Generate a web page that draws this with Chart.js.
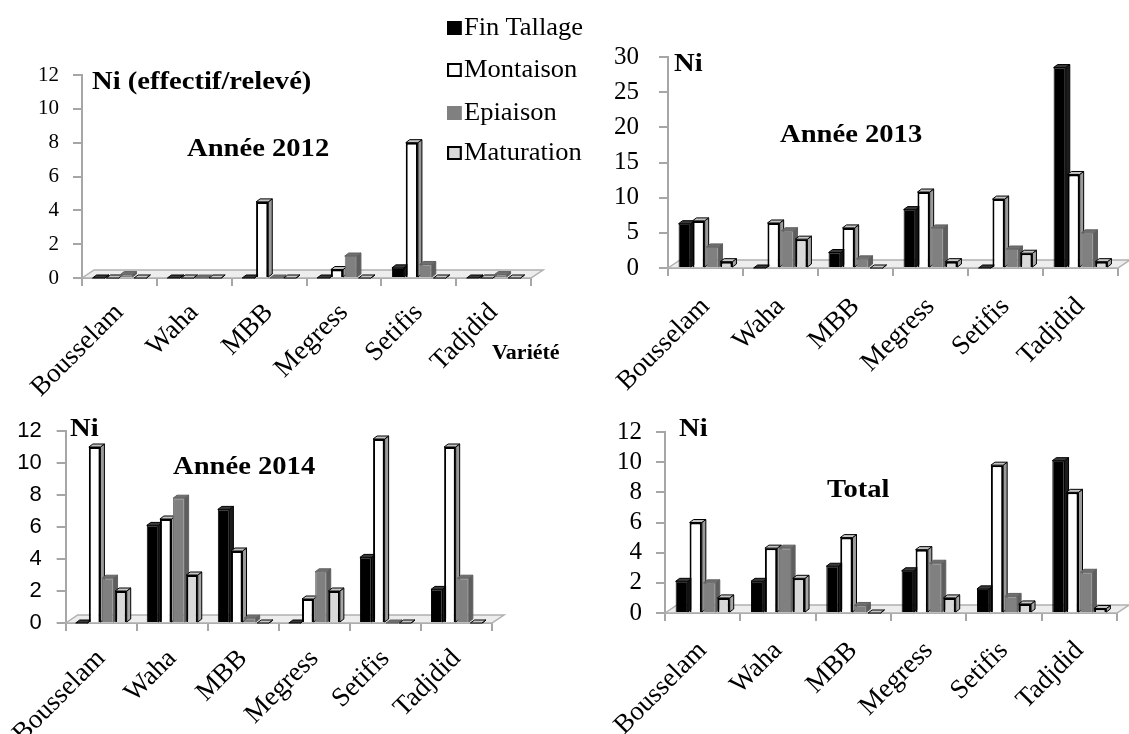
<!DOCTYPE html>
<html>
<head>
<meta charset="utf-8">
<script src="https://cdn.jsdelivr.net/npm/chart.js@4.4.1/dist/chart.umd.min.js"></script>
<style>
  body { margin: 0; background: #fff; width: 1129px; height: 734px; position: relative; overflow: hidden;
         font-family: 'Liberation Serif', 'Times New Roman', serif; }
  canvas { position: absolute; }
  .txt { position: absolute; font-family: 'Liberation Serif', 'Times New Roman', serif; font-weight: bold;
         font-size: 26px; line-height: 1; white-space: nowrap; color: #000;
         transform: scaleX(1.1); transform-origin: left top; }
  .leg { position: absolute; left: 447px; font-family: 'Liberation Serif', 'Times New Roman', serif;
         font-size: 25px; line-height: 1; white-space: nowrap; transform: scaleX(1.06); transform-origin: left top; }
  .leg i { display: inline-block; width: 14px; height: 14px; margin-right: 2px; vertical-align: 0; box-sizing: border-box; }
</style>
</head>
<body>
<canvas id="c2012" width="565" height="400" style="left:0;top:0"></canvas>
<canvas id="c2013" width="564" height="400" style="left:565px;top:0"></canvas>
<canvas id="c2014" width="565" height="334" style="left:0;top:400px"></canvas>
<canvas id="cTotal" width="564" height="334" style="left:565px;top:400px"></canvas>

<div class="leg" style="top:14px"><i style="background:#000"></i>Fin Tallage</div>
<div class="leg" style="top:56px"><i style="background:#fff;border:2px solid #000"></i>Montaison</div>
<div class="leg" style="top:99px"><i style="background:#808080"></i>Epiaison</div>
<div class="leg" style="top:139px"><i style="background:#d9d9d9;border:2px solid #000"></i>Maturation</div>

<div class="txt" style="left:92px;top:68px">Ni (effectif/relevé)</div>
<div class="txt" style="left:187px;top:135px">Année 2012</div>
<div class="txt" style="left:492px;top:342px;font-size:20px">Variété</div>
<div class="txt" style="left:674px;top:50px">Ni</div>
<div class="txt" style="left:780px;top:121px">Année 2013</div>
<div class="txt" style="left:70px;top:415px">Ni</div>
<div class="txt" style="left:173px;top:453px">Année 2014</div>
<div class="txt" style="left:679px;top:415px">Ni</div>
<div class="txt" style="left:827px;top:476px">Total</div>

<script>
const varietes = ['Bousselam', 'Waha', 'MBB', 'Megress', 'Setifis', 'Tadjdid'];
const stades = ['Fin Tallage', 'Montaison', 'Epiaison', 'Maturation'];

// Année 2012
const finTallage2012 = [0, 0, 0, 0, 0.6, 0];
const montaison2012 = [0, 0, 4.5, 0.5, 8.0, 0];
const epiaison2012 = [0.2, 0, 0, 1.3, 0.8, 0.2];
const maturation2012 = [0, 0, 0, 0, 0, 0];

// Année 2013
const finTallage2013 = [6.3, 0, 2.2, 8.3, 0, 28.5];
const montaison2013 = [6.7, 6.4, 5.7, 10.8, 9.8, 13.3];
const epiaison2013 = [3.0, 5.3, 1.3, 5.7, 2.7, 5.0];
const maturation2013 = [0.9, 4.1, 0, 0.9, 2.1, 0.9];

// Année 2014
const finTallage2014 = [0, 6.1, 7.1, 0, 4.1, 2.1];
const montaison2014 = [11.0, 6.5, 4.5, 1.5, 11.5, 11.0];
const epiaison2014 = [2.8, 7.8, 0.3, 3.2, 0, 2.8];
const maturation2014 = [2.0, 3.0, 0, 2.0, 0, 0];

// Total
const finTallageTotal = [2.1, 2.1, 3.1, 2.8, 1.6, 10.1];
const montaisonTotal = [6.0, 4.3, 5.0, 4.2, 9.8, 8.0];
const epiaisonTotal = [2.0, 4.3, 0.5, 3.3, 1.1, 2.7];
const maturationTotal = [1.0, 2.3, 0, 1.0, 0.6, 0.3];

const axisGray = '#a6a6a6';
const serif = "'Liberation Serif', 'Times New Roman', serif";
const sans = "'Liberation Sans', Arial, sans-serif";

// front / side / top colours for each stage
const barStyles = [
    { backgroundColor: '#000', borderColor: '#000', borderWidth: 1, sideColor: '#1c1c1c', topColor: '#3a3a3a', edgeColor: '#000' },
    { backgroundColor: '#fff', borderColor: '#000', borderWidth: 2, sideColor: '#9a9a9a', topColor: '#c4c4c4', edgeColor: '#000' },
    { backgroundColor: '#808080', borderColor: '#707070', borderWidth: 1, sideColor: '#5e5e5e', topColor: '#707070', edgeColor: '#606060' },
    { backgroundColor: '#d9d9d9', borderColor: '#000', borderWidth: 2, sideColor: '#a6a6a6', topColor: '#c8c8c8', edgeColor: '#000' }
];

// fake 3D: floor, then side and top faces drawn before the bar fronts
const depth3d = {
    id: 'depth3d',
    beforeDatasetsDraw(chart) {
        const { ctx, chartArea: a } = chart;
        const dx = 4, dy = 3;
        const poly = (pts, fill) => {
            ctx.beginPath();
            pts.forEach((p, k) => k ? ctx.lineTo(p[0], p[1]) : ctx.moveTo(p[0], p[1]));
            ctx.closePath();
            ctx.fillStyle = fill;
            ctx.fill();
            ctx.stroke();
        };
        ctx.save();
        ctx.strokeStyle = '#b0b0b0';
        ctx.lineWidth = 1.5;
        poly([[a.left, a.bottom], [a.left + 12, a.bottom - 8], [a.right + 12, a.bottom - 8], [a.right, a.bottom]], '#ededed');

        ctx.lineWidth = 1;
        chart.data.datasets.forEach((ds, i) => {
            ctx.strokeStyle = ds.edgeColor;
            chart.getDatasetMeta(i).data.forEach(bar => {
                const { x, y, base, width } = bar.getProps(['x', 'y', 'base', 'width'], true);
                const l = x - width / 2, r = x + width / 2;
                poly([[r, y], [r + dx, y - dy], [r + dx, base - dy], [r, base]], ds.sideColor);
                poly([[l, y], [l + dx, y - dy], [r + dx, y - dy], [r, y]], ds.topColor);
            });
        });
        ctx.restore();
    }
};

function makeChart(id, series, cfg) {
    return new Chart(document.getElementById(id), {
        type: 'bar',
        data: {
            labels: varietes,
            datasets: stades.map((s, i) => ({ label: s, data: series[i], ...barStyles[i] }))
        },
        options: {
            responsive: false,
            animation: false,
            layout: { padding: { top: cfg.top, right: cfg.right, left: 0, bottom: 0 } },
            datasets: { bar: { categoryPercentage: 0.74, barPercentage: 0.88 } },
            plugins: { legend: { display: false }, tooltip: { enabled: false } },
            scales: {
                x: {
                    grid: { drawOnChartArea: false, offset: true, tickLength: 8, color: axisGray, lineWidth: 2 },
                    border: { color: axisGray, width: 2 },
                    ticks: { minRotation: 45, maxRotation: 45, autoSkip: false, color: '#000', padding: cfg.xpad,
                             font: { family: serif, size: 27 } },
                    afterFit: s => { s.height = cfg.xh; }
                },
                y: {
                    min: 0, max: cfg.max,
                    grid: { drawOnChartArea: false, tickLength: 9, color: axisGray, lineWidth: 2 },
                    border: { color: axisGray, width: 2 },
                    ticks: { stepSize: cfg.step, autoSkip: false, color: '#000', padding: cfg.pad,
                             font: { family: cfg.sans ? sans : serif, size: cfg.fs } },
                    afterFit: s => { s.width = cfg.yw; }
                }
            }
        },
        plugins: [depth3d]
    });
}

makeChart('c2012', [finTallage2012, montaison2012, epiaison2012, maturation2012],
    { top: 75, right: 34, xh: 122, yw: 82, max: 12, step: 2, pad: 14, fs: 21, xpad: 11 });
makeChart('c2013', [finTallage2013, montaison2013, epiaison2013, maturation2013],
    { top: 57, right: 11, xh: 132, yw: 103, max: 30, step: 5, pad: 20, fs: 25, xpad: 15 });
makeChart('c2014', [finTallage2014, montaison2014, epiaison2014, maturation2014],
    { top: 31, right: 73, xh: 111, yw: 65, max: 12, step: 2, pad: 15, fs: 22, sans: true, xpad: 12 });
makeChart('cTotal', [finTallageTotal, montaisonTotal, epiaisonTotal, maturationTotal],
    { top: 32, right: 12, xh: 121, yw: 100, max: 12, step: 2, pad: 14, fs: 25, xpad: 14 });
</script>
</body>
</html>
